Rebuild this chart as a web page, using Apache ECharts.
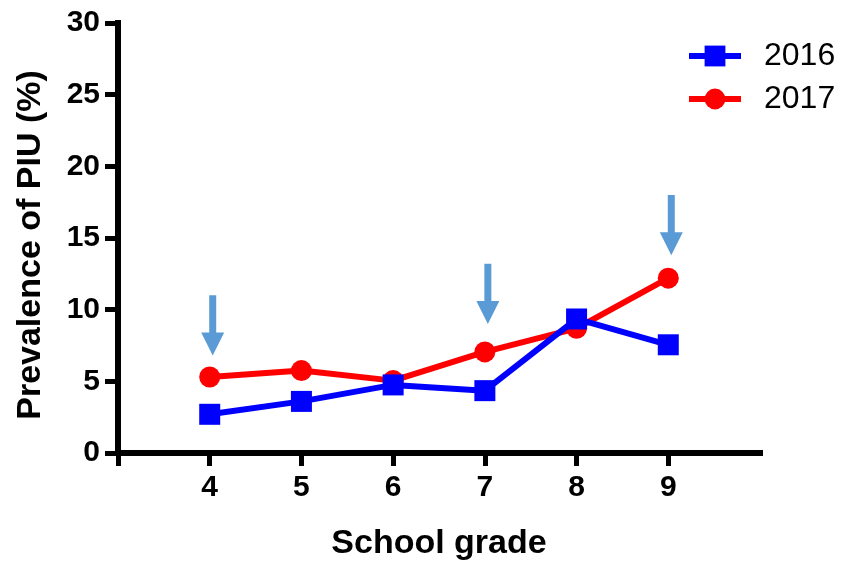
<!DOCTYPE html>
<html>
<head>
<meta charset="utf-8">
<script src="https://cdn.jsdelivr.net/npm/echarts@6/dist/echarts.min.js"></script>
<style>
  html, body { margin: 0; padding: 0; background: #fff; }
  #chart { width: 846px; height: 562px; }
</style>
</head>
<body>
<div id="chart"></div>
<script>
// School grades shown on the horizontal axis
const grades = [4, 5, 6, 7, 8, 9];
// Prevalence of PIU (%) by grade
const prev2016 = [2.7, 3.6, 4.75, 4.35, 9.35, 7.55];
const prev2017 = [5.3, 5.75, 5.05, 7.05, 8.7, 12.2];
// Downward arrows marking selected grades: grade, tip value, tail value
const arrowGrades = [4, 7, 9];
const arrowTips = [6.8, 9.0, 13.8];
const arrowTails = [11.0, 13.2, 18.0];
// Axis tick labels
const yTicks = [0, 5, 10, 15, 20, 25, 30];

const FONT = '"Liberation Sans", Arial, Helvetica, sans-serif';

const chart = echarts.init(document.getElementById('chart'), null, { renderer: 'canvas' });

const axisLineStyle = { color: '#000', width: 6, cap: 'square' };

chart.setOption({
  animation: false,
  backgroundColor: '#fff',
  grid: { left: 118, right: 86, top: 23, bottom: 109, containLabel: false, outerBoundsMode: 'none' },
  legend: {
    data: ['2016', '2017'],
    left: 681,
    top: 35,
    orient: 'vertical',
    itemWidth: 52,
    itemHeight: 26,
    itemGap: 11,
    lineStyle: { width: 6 },
    textStyle: { fontFamily: FONT, fontSize: 32, color: '#000', padding: [0, 0, 0, 18] }
  },
  xAxis: {
    type: 'value',
    min: 3,
    max: 10,
    interval: 1,
    name: 'School grade',
    nameLocation: 'middle',
    nameGap: 74,
    nameTextStyle: { fontFamily: FONT, fontSize: 34, fontWeight: 'bold', color: '#000' },
    axisLine: { show: true, lineStyle: axisLineStyle },
    axisTick: { show: true, length: 13, lineStyle: { color: '#000', width: 5 }, customValues: [3].concat(grades) },
    axisLabel: { fontFamily: FONT, fontSize: 30, fontWeight: 'bold', color: '#000', margin: 20, customValues: grades },
    splitLine: { show: false }
  },
  yAxis: {
    type: 'value',
    min: 0,
    max: 30,
    interval: 5,
    name: 'Prevalence of PIU (%)',
    nameLocation: 'middle',
    nameGap: 70,
    nameTextStyle: { fontFamily: FONT, fontSize: 34, fontWeight: 'bold', color: '#000', padding: [0, 14, 0, 0] },
    axisLine: { show: true, lineStyle: axisLineStyle },
    axisTick: { show: true, length: 13, lineStyle: { color: '#000', width: 5 } },
    axisLabel: {
      fontFamily: FONT, fontSize: 30, fontWeight: 'bold', color: '#000', margin: 18,
      customValues: yTicks
    },
    splitLine: { show: false }
  },
  series: [
    {
      name: '2017',
      type: 'line',
      data: grades.map((g, i) => [g, prev2017[i]]),
      symbol: 'circle',
      symbolSize: 21,
      itemStyle: { color: '#ff0000' },
      lineStyle: { color: '#ff0000', width: 6 },
      z: 2
    },
    {
      name: '2016',
      type: 'line',
      data: grades.map((g, i) => [g, prev2016[i]]),
      symbol: 'rect',
      symbolSize: 21,
      itemStyle: { color: '#0000ff' },
      lineStyle: { color: '#0000ff', width: 6 },
      z: 3
    },
    {
      name: 'arrows',
      type: 'custom',
      data: arrowGrades.map((g, i) => [g, arrowTips[i], arrowTails[i]]),
      z: 4,
      renderItem: function (params, api) {
        const tip = api.coord([api.value(0), api.value(1)]);
        const tail = api.coord([api.value(0), api.value(2)]);
        const cx = tip[0] + 3;
        const shaft = 3.5, head = 11.5, headH = 23;
        return {
          type: 'polygon',
          shape: {
            points: [
              [cx - shaft, tail[1]], [cx + shaft, tail[1]],
              [cx + shaft, tip[1] - headH], [cx + head, tip[1] - headH],
              [cx, tip[1]],
              [cx - head, tip[1] - headH], [cx - shaft, tip[1] - headH]
            ]
          },
          style: { fill: '#5b9bd5' }
        };
      }
    }
  ]
});
</script>
</body>
</html>
